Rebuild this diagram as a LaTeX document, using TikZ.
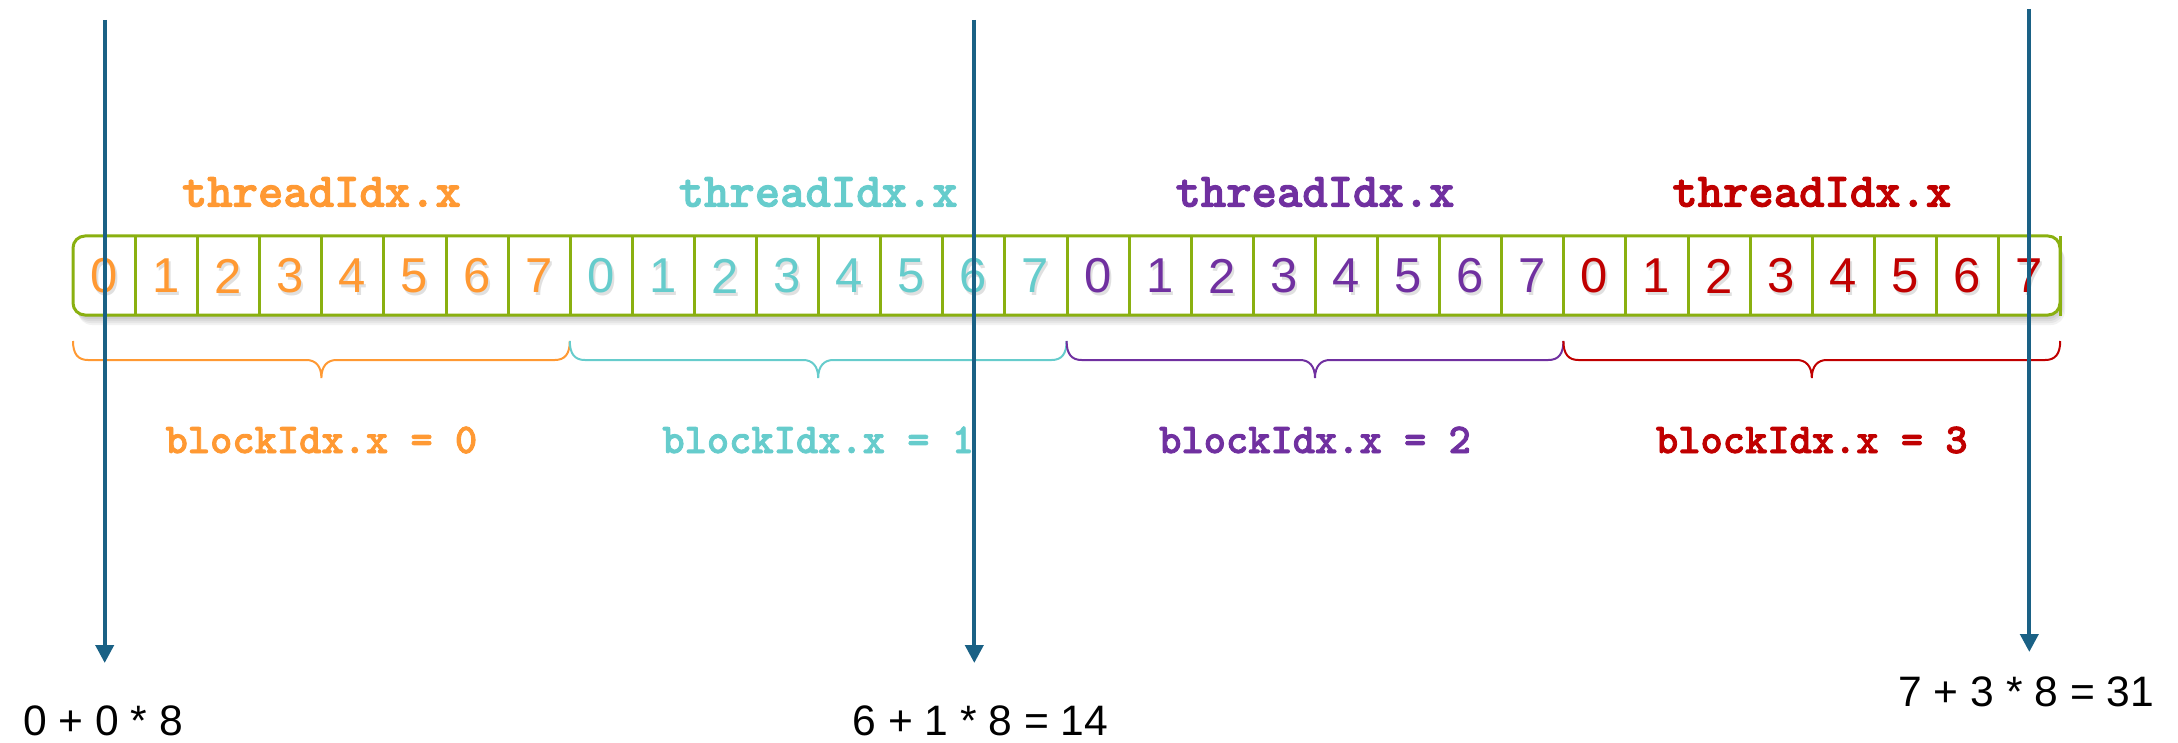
\documentclass[tikz,border=0pt]{standalone}
\usepackage{fontspec}
\setmainfont{Liberation Sans}
\newfontfamily\codefont{lmmonolt10-bold.otf}[FakeBold=2]
\usetikzlibrary{arrows.meta}
\definecolor{corange}{HTML}{FF9933}
\definecolor{ccyan}{HTML}{66CCCC}
\definecolor{cpurple}{HTML}{7030A0}
\definecolor{cred}{HTML}{C00000}
\definecolor{boxgreen}{HTML}{8AB010}
\definecolor{arrowblue}{HTML}{1A6185}
\begin{document}
\begin{tikzpicture}[x=0.5pt,y=-0.5pt,
  cell/.style={minimum width=31.05pt, minimum height=39.5pt, inner sep=0pt, font=\fontsize{24.5}{28}\selectfont},
  cellshadow/.style={cell, text=black, text opacity=0.12},
  tlabel/.style={font=\codefont\fontsize{24.15}{28}\selectfont, anchor=base, inner sep=0pt},
  blabel/.style={font=\codefont\fontsize{21.2}{25}\selectfont, anchor=base, inner sep=0pt},
  formula/.style={font=\fontsize{21.3}{25}\selectfont, inner sep=0pt},
  pointer/.style={draw=arrowblue, line width=2pt, -{Triangle[width=9pt,length=9pt]}},
  bracestyle/.style={line width=1pt},
  gridline/.style={draw=boxgreen, line width=1.5pt}]
\useasboundingbox (0,0) rectangle (2178,743);
% soft shadow of the strip
\foreach \k in {1,...,5} {
  \fill[black, opacity=0.05, rounded corners=7pt] (73+\k,236+2*\k) rectangle (2060+\k,315+2*\k);
}
\fill[white, rounded corners=6pt] (73,236) rectangle (2060,315);
% cells with digits
\foreach \col [count=\b from 0] in {corange,ccyan,cpurple,cred} {
  \foreach \j in {0,...,7} {
    \pgfmathsetmacro\cx{73+62.1*(8*\b+\j+0.5)}
    \node[cellshadow] (s\b\j) at (\cx+2,279) {\j};
    \node[cell, text=\col] (c\b\j) at (\cx,276) {\j};
  }
}
\draw[gridline, rounded corners=6pt] (73,236) rectangle (2060,315);
\foreach \b in {0,...,3} {
  \foreach \j in {0,...,7} {
    \draw[gridline] (c\b\j.north east) -- (c\b\j.south east);
  }
}
% braces and labels
\foreach \col [count=\b from 0] in {corange,ccyan,cpurple,cred} {
  \pgfmathsetmacro\xa{73+496.8*\b}
  \pgfmathsetmacro\xm{\xa+248.4}
  \pgfmathsetmacro\xb{\xa+496.8}
  \draw[bracestyle, \col] (\xa,341) .. controls (\xa,354) and (\xa+5,360) .. (\xa+15,360)
     -- (\xm-15,360) .. controls (\xm-6,360) and (\xm,366) .. (\xm,378)
     .. controls (\xm,366) and (\xm+6,360) .. (\xm+15,360)
     -- (\xb-15,360) .. controls (\xb-5,360) and (\xb,354) .. (\xb,341);
  \node[tlabel, text=\col] (t\b) at (\xm,206.7) {threadIdx.x};
  \node[blabel, text=\col] (bl\b) at (\xm,453) {blockIdx.x = \b};
}
% formulas
\node[formula, anchor=base west] (f1) at (22.7,735) {0 + 0 * 8};
\node[formula, anchor=base] (f2) at (980.5,735) {6 + 1 * 8 = 14};
\node[formula, anchor=base] (f3) at (2026.2,706.7) {7 + 3 * 8 = 31};
% pointers
\coordinate (p1s) at (104.7,20);
\coordinate (p1e) at (104.7,663);
\coordinate (p2s) at (974.3,20);
\coordinate (p2e) at (974.3,663);
\coordinate (p3s) at (2029.3,9);
\coordinate (p3e) at (2029.3,652);
\draw[pointer] (p1s) -- (p1e);
\draw[pointer] (p2s) -- (p2e);
\draw[pointer] (p3s) -- (p3e);
\end{tikzpicture}
\end{document}
